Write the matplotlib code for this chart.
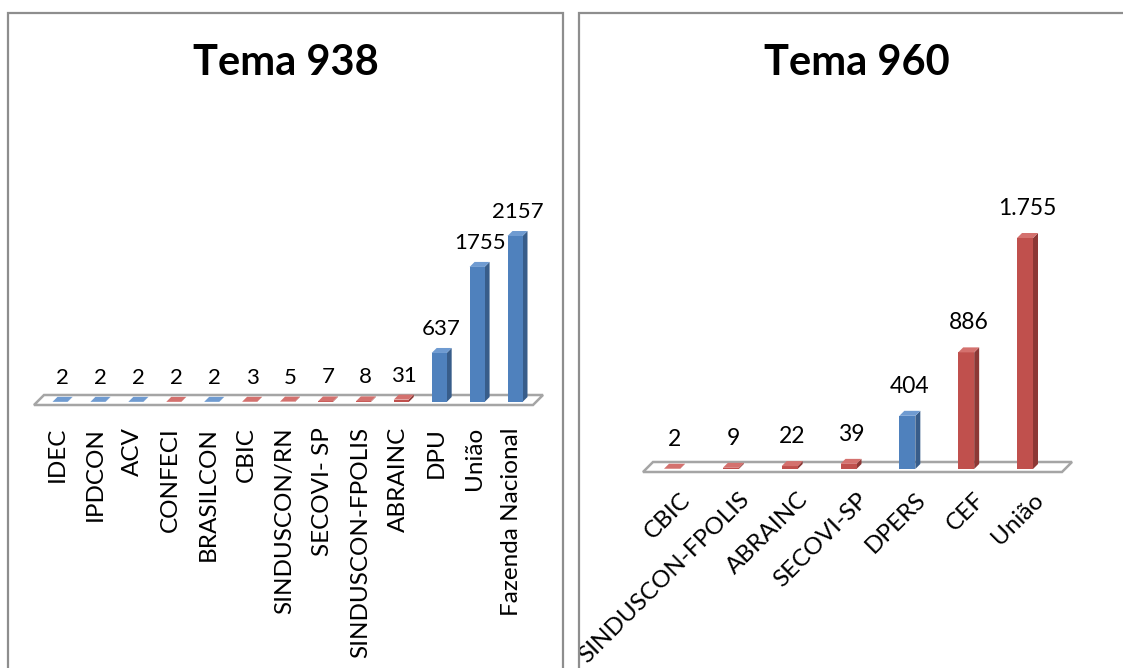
import matplotlib
matplotlib.use("Agg")
import matplotlib.pyplot as plt
from matplotlib.patches import Polygon, Rectangle

W, H = 1123, 668
plt.rcParams['font.family'] = ['Lato', 'DejaVu Sans']

# Tema 938
cats_938 = ['IDEC', 'IPDCON', 'ACV', 'CONFECI', 'BRASILCON', 'CBIC', 'SINDUSCON/RN',
            'SECOVI- SP', 'SINDUSCON-FPOLIS', 'ABRAINC', 'DPU', 'União', 'Fazenda Nacional']
vals_938 = [2, 2, 2, 2, 2, 3, 5, 7, 8, 31, 637, 1755, 2157]
labels_938 = ['2', '2', '2', '2', '2', '3', '5', '7', '8', '31', '637', '1755', '2157']
groups_938 = ['b', 'b', 'b', 'r', 'b', 'r', 'r', 'r', 'r', 'r', 'b', 'b', 'b']

# Tema 960
cats_960 = ['CBIC', 'SINDUSCON-FPOLIS', 'ABRAINC', 'SECOVI-SP', 'DPERS', 'CEF', 'União']
vals_960 = [2, 9, 22, 39, 404, 886, 1755]
labels_960 = ['2', '9', '22', '39', '404', '886', '1.755']
groups_960 = ['r', 'r', 'r', 'r', 'b', 'r', 'r']

COLORS = {
    'b': ('#4F81BD', '#385D8A', '#6F9BD1'),
    'r': ('#C0504D', '#8C3735', '#D4716E'),
}


def px_delta(ax, dxp, dyp):
    inv = ax.transData.inverted()
    p0 = inv.transform((0, 0))
    p1 = inv.transform((dxp, dyp))
    return p1[0] - p0[0], p1[1] - p0[1]


def draw_chart(fig, cats, vals, labels, groups, lay):
    # lay: pixel layout, image coords (y down)
    n = len(cats)
    step = (lay['last'] - lay['first']) / (n - 1)
    x0, x1 = lay['box_x']
    yt, yb = lay['box_y']
    ax = fig.add_axes([x0 / W, 1 - yb / H, (x1 - x0) / W, (yb - yt) / H])
    ax.set_xlim((x0 - lay['first']) / step, (x1 - lay['first']) / step)
    vpp = max(vals) / (lay['base'] - lay['top'])
    ax.set_ylim(-(yb - lay['base']) * vpp, (lay['base'] - yt) * vpp)
    ax.axis('off')
    ax.patch.set_alpha(0)

    # floor
    fx0 = (lay['floor'][0] - lay['first']) / step
    fx1 = (lay['floor'][1] - lay['first']) / step
    ddx, ddy = px_delta(ax, lay['floor_depth'], lay['floor_depth'])
    _, fdrop = px_delta(ax, 0, lay['floor_drop'])
    floor = Polygon([(fx0, -fdrop), (fx1, -fdrop), (fx1 + ddx, -fdrop + ddy),
                     (fx0 + ddx, -fdrop + ddy)], closed=True, fc='white',
                    ec='#A5A5A5', lw=1.8, zorder=1)
    ax.add_patch(floor)

    w, _ = px_delta(ax, lay['bar_w'], 0)
    dx, dy = px_delta(ax, lay['depth'], lay['depth'])
    for i, (v, g) in enumerate(zip(vals, groups)):
        front, side, top = COLORS[g]
        xl = i - w / 2
        xr = i + w / 2
        ax.bar(i, v, width=w, color=front, zorder=3, lw=0)
        ax.add_patch(Polygon([(xr, 0), (xr + dx, dy), (xr + dx, v + dy), (xr, v)],
                             closed=True, fc=side, lw=0, zorder=2))
        ax.add_patch(Polygon([(xl, v), (xr, v), (xr + dx, v + dy), (xl + dx, v + dy)],
                             closed=True, fc=top, lw=0, zorder=4))
        ax.annotate(labels[i], (i + dx / 2, v), xytext=(0, lay['val_gap']),
                    textcoords='offset pixels', ha='center', va='bottom',
                    fontsize=lay['val_fs'], color='black')
        ax.annotate(cats[i], (i, 0), xytext=lay['cat_off'], textcoords='offset pixels',
                    rotation=lay['rot'], rotation_mode=lay['rot_mode'],
                    ha=lay['cat_ha'], va='top', fontsize=lay['cat_fs'], color='black')
    return ax


fig = plt.figure(figsize=(W / 100, H / 100), dpi=100)

frame_col = '#8E8E8E'
fig.add_artist(Rectangle((8 / W, -0.2), (563 - 8) / W, 1.2 - 13 / H, fill=False,
                         ec=frame_col, lw=1.6, transform=fig.transFigure))
fig.add_artist(Rectangle((579 / W, -0.2), 0.6, 1.2 - 13 / H, fill=False,
                         ec=frame_col, lw=1.6, transform=fig.transFigure))

fig.text(286 / W, 1 - 63 / H, 'Tema 938', ha='center', va='center',
         fontsize=30, fontweight='bold')
fig.text(857 / W, 1 - 63 / H, 'Tema 960', ha='center', va='center',
         fontsize=30, fontweight='bold')

draw_chart(fig, cats_938, vals_938, labels_938, groups_938, dict(
    first=60, last=515, box_x=(20, 560), box_y=(150, 420), base=402, top=236,
    floor=(34, 533), floor_depth=10, floor_drop=3, bar_w=15, depth=5,
    val_gap=14, val_fs=16, cat_off=(-3, -25), rot=90, rot_mode='default',
    cat_ha='center', cat_fs=17.5))

draw_chart(fig, cats_960, vals_960, labels_960, groups_960, dict(
    first=672, last=1025, box_x=(590, 1110), box_y=(150, 490), base=469, top=238,
    floor=(643, 1062), floor_depth=10, floor_drop=3, bar_w=16, depth=5,
    val_gap=19, val_fs=16.5, cat_off=(8, -20), rot=45, rot_mode='anchor',
    cat_ha='right', cat_fs=17.5))

fig.savefig('out.png', dpi=100, facecolor='white')
